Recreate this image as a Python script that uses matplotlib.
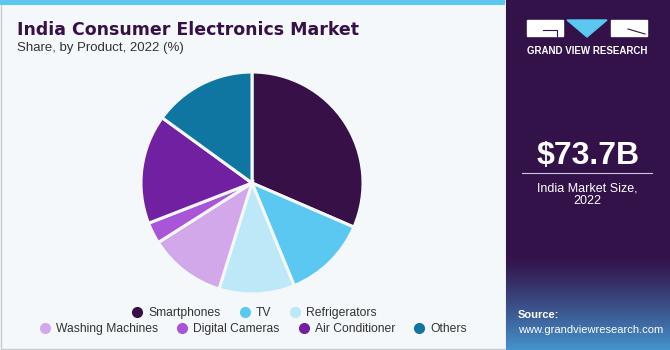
import matplotlib.pyplot as plt
import numpy as np
from matplotlib.patches import Rectangle, Polygon
from matplotlib.lines import Line2D

# data
products = ["Smartphones", "TV", "Refrigerators", "Washing Machines",
            "Digital Cameras", "Air Conditioner", "Others"]
shares = [31.5, 12.3, 11.0, 11.2, 3.1, 15.9, 15.0]
colors = ["#361046", "#5BC8F2", "#BDE8F8", "#D3A8EA",
          "#A855D8", "#7020A0", "#0E76A0"]

TITLE = "India Consumer Electronics Market"
SUBTITLE = "Share, by Product, 2022 (%)"
MARKET_SIZE = "$73.7B"
MARKET_LABEL = "India Market Size,\n2022"

plt.rcParams["font.family"] = ["Liberation Sans", "DejaVu Sans"]

W, H = 670, 350
fig = plt.figure(figsize=(W / 100, H / 100), dpi=100)
fig.patch.set_facecolor("#F4F8FB")

# background canvas in pixel coords
bg = fig.add_axes([0, 0, 1, 1])
bg.axis("off")

# left panel border + top bar
bg.add_patch(Rectangle((0.5, 0.5), 505, H - 1.5, fill=False,
                       edgecolor="#C8CCD2", linewidth=1))
bg.add_patch(Rectangle((0, 0), 505, 5, color="#5BC8F0", linewidth=0))

# right panel with gradient at the bottom
panel = np.zeros((H, 1, 3))
top = np.array([0x33, 0x12, 0x4A]) / 255
bottom = np.array([0x45, 0x95, 0xCE]) / 255
for i in range(H):
    t = 0 if i < 255 else ((i - 255) / (H - 255)) ** 1.2
    panel[i, 0] = top * (1 - t) + bottom * t
bg.imshow(panel, extent=(506, W, H, 0), aspect="auto", zorder=1)
bg.set_xlim(0, W)
bg.set_ylim(H, 0)

# logo
bg.add_patch(Rectangle((527, 20), 36, 16, color="white", zorder=2))
bg.add_patch(Rectangle((611, 20), 36, 16, color="white", zorder=2))
bg.add_patch(Polygon([[567, 20], [607, 20], [587, 37]], color="#5BC8F0", zorder=2))
bg.plot([543, 557, 557], [30, 30, 36], color="#33124A", lw=0.8, zorder=3)
bg.plot([628, 645], [29, 34], color="#33124A", lw=0.8, zorder=3)
bg.text(587, 51, "GRAND VIEW RESEARCH", color="white", fontsize=7,
        fontweight="bold", ha="center", va="center", zorder=3)

bg.text(588, 156, MARKET_SIZE, color="white", fontsize=23,
        fontweight="bold", ha="center", va="center", zorder=3)
bg.plot([522, 652], [173, 173], color="#D0C8DA", lw=0.8, zorder=3)
bg.text(587, 195, MARKET_LABEL, color="white", fontsize=9,
        ha="center", va="center", linespacing=1.1, zorder=3)
bg.text(518, 315, "Source:", color="white", fontsize=8,
        fontweight="bold", ha="left", va="center", zorder=3)
bg.text(518, 330, "www.grandviewresearch.com", color="white", fontsize=8,
        ha="left", va="center", zorder=3)

# titles
bg.text(17, 30, TITLE, color="#361046", fontsize=12.5, fontweight="heavy",
        family="DejaVu Sans", ha="left", va="center")
bg.text(17, 48, SUBTITLE, color="#333333", fontsize=9.5,
        ha="left", va="center")

# pie
cx, cy, r = 252, 183, 111
ax = fig.add_axes([(cx - r) / W, (H - cy - r) / H, 2 * r / W, 2 * r / H])
ax.pie(shares, colors=colors, startangle=90, counterclock=False,
       wedgeprops=dict(edgecolor="#F4F8FB", linewidth=2.2))
ax.set_xlim(-1, 1)
ax.set_ylim(-1, 1)

# legend, two rows
handles = [Line2D([], [], marker="o", linestyle="", markersize=7,
                  markerfacecolor=c, markeredgecolor=c) for c in colors]
leg_kw = dict(loc="center", frameon=False, fontsize=8.7, handletextpad=0.4,
              columnspacing=1.5, handlelength=1, labelcolor="#333333")
fig.legend(handles[:3], products[:3], ncol=3,
           bbox_to_anchor=(254 / W, 1 - 313 / H), **leg_kw)
fig.legend(handles[3:], products[3:], ncol=4,
           bbox_to_anchor=(253 / W, 1 - 329 / H), **leg_kw)

fig.savefig("out.png", dpi=100, facecolor=fig.get_facecolor())
